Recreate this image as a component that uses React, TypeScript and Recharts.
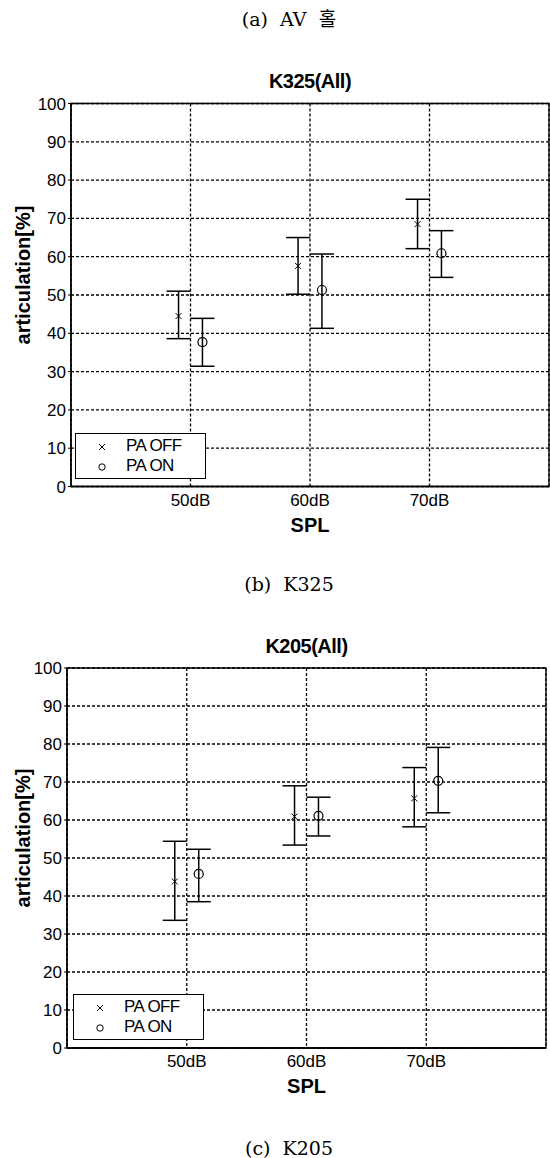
import React from "react";
import {
  ScatterChart,
  Scatter,
  XAxis,
  YAxis,
  CartesianGrid,
  ErrorBar,
  ReferenceArea,
  Legend,
} from "recharts";

// x categories (SPL levels) and axis ticks
const SPL_LEVELS = [50, 60, 70];
const Y_TICKS = [0, 10, 20, 30, 40, 50, 60, 70, 80, 90, 100];
const SERIES_NAMES = ["PA OFF", "PA ON"];

// K325(All) — articulation [%], mean and min / max per SPL level
const k325OffMean = [44.5, 57.6, 68.5];
const k325OffLow = [38.6, 50.2, 62.1];
const k325OffHigh = [51.0, 65.0, 75.0];
const k325OnMean = [37.7, 51.3, 60.9];
const k325OnLow = [31.4, 41.3, 54.6];
const k325OnHigh = [43.9, 60.7, 66.8];

// K205(All)
const k205OffMean = [43.8, 60.9, 65.7];
const k205OffLow = [33.6, 53.4, 58.2];
const k205OffHigh = [54.4, 69.0, 73.8];
const k205OnMean = [45.8, 61.1, 70.3];
const k205OnLow = [38.5, 55.8, 61.9];
const k205OnHigh = [52.3, 66.0, 79.1];

const SANS = "'Liberation Sans', Arial, sans-serif";
const SERIF = "'DejaVu Serif', 'Liberation Serif', 'Noto Sans CJK KR', serif";

// PA OFF sits just left of the tick, PA ON just right (matlab-ish dodge)
const DODGE = 1;

function toPoints(mean: number[], low: number[], high: number[], shift: number) {
  return SPL_LEVELS.map((db, i) => ({
    x: db + shift,
    y: mean[i],
    err: [mean[i] - low[i], high[i] - mean[i]],
  }));
}

function CrossShape(props: any) {
  const { cx, cy } = props;
  const s = 3;
  return (
    <g stroke="#000" strokeWidth={1}>
      <line x1={cx - s} y1={cy - s} x2={cx + s} y2={cy + s} />
      <line x1={cx - s} y1={cy + s} x2={cx + s} y2={cy - s} />
    </g>
  );
}

function CircleShape(props: any) {
  const { cx, cy } = props;
  return <circle cx={cx} cy={cy} r={4.5} fill="none" stroke="#000" strokeWidth={1.2} />;
}

function LegendBox({ payload }: any) {
  return (
    <div
      style={{
        width: 131,
        height: 46,
        border: "1.5px solid #000",
        background: "#fff",
        fontFamily: SANS,
        fontSize: 17,
        color: "#000",
        boxSizing: "border-box",
        paddingTop: 2,
      }}
    >
      {(payload ?? []).map((p: any, i: number) => (
        <div key={p.value} style={{ display: "flex", alignItems: "center", height: 20 }}>
          <svg width={50} height={20}>
            {i === 0 ? (
              <g stroke="#000" strokeWidth={1}>
                <line x1={23} y1={8} x2={29} y2={14} />
                <line x1={23} y1={14} x2={29} y2={8} />
              </g>
            ) : (
              <circle cx={26} cy={11} r={3.2} fill="none" stroke="#000" strokeWidth={1} />
            )}
          </svg>
          <span style={{ letterSpacing: -0.6 }}>{p.value}</span>
        </div>
      ))}
    </div>
  );
}

interface PanelProps {
  top: number;
  height: number;
  title: string;
  titleX: number;
  titleY: number;
  yAxisWidth: number;
  margin: { top: number; right: number; bottom: number; left: number };
  legendPos: { left: number; top: number };
  off: { x: number; y: number; err: number[] }[];
  on: { x: number; y: number; err: number[] }[];
}

function Panel({ top, height, title, titleX, titleY, yAxisWidth, margin, legendPos, off, on }: PanelProps) {
  return (
    <div style={{ position: "absolute", left: 0, top, width: 550, height }}>
      <div
        style={{
          position: "absolute",
          left: titleX,
          top: titleY,
          transform: "translate(-50%, -50%)",
          fontFamily: SANS,
          fontWeight: "bold",
          fontSize: 20,
          lineHeight: 1,
          whiteSpace: "nowrap",
          letterSpacing: -0.5,
        }}
      >
        {title}
      </div>
      <ScatterChart width={550} height={height} margin={margin}>
        <CartesianGrid stroke="#000" strokeDasharray="3 2" strokeWidth={1.3} />
        <XAxis
          type="number"
          dataKey="x"
          domain={[40, 80]}
          ticks={SPL_LEVELS}
          tickFormatter={(v) => `${v}dB`}
          tick={{ fill: "#000", fontSize: 17, fontFamily: SANS }}
          tickLine={false}
          tickSize={4}
          tickMargin={3}
          axisLine={{ stroke: "#000", strokeWidth: 1.3 }}
          height={45}
          allowDataOverflow
          label={{
            content: (p: any) => {
              const vb = p.viewBox;
              return (
                <text
                  x={vb.x + vb.width / 2}
                  y={vb.y + 38}
                  textAnchor="middle"
                  dominantBaseline="central"
                  fontFamily={SANS}
                  fontWeight="bold"
                  fontSize={20}
                  fill="#000"
                >
                  SPL
                </text>
              );
            },
          }}
        />
        <YAxis
          type="number"
          dataKey="y"
          domain={[0, 100]}
          ticks={Y_TICKS}
          interval={0}
          tick={{ fill: "#000", fontSize: 17, fontFamily: SANS }}
          tickSize={3}
          tickMargin={2}
          tickLine={{ stroke: "#000" }}
          axisLine={{ stroke: "#000", strokeWidth: 1.3 }}
          width={yAxisWidth}
          allowDataOverflow
          label={{
            content: (p: any) => {
              const vb = p.viewBox;
              const cx = 23;
              const cy = vb.y + vb.height / 2 - 20;
              return (
                <text
                  x={cx}
                  y={cy}
                  transform={`rotate(-90 ${cx} ${cy})`}
                  textAnchor="middle"
                  dominantBaseline="central"
                  fontFamily={SANS}
                  fontWeight="bold"
                  fontSize={20}
                  fill="#000"
                >
                  articulation[%]
                </text>
              );
            },
          }}
        />
        <ReferenceArea x1={40} x2={80} y1={0} y2={100} fill="none" stroke="#000" strokeWidth={1.3} ifOverflow="visible" />
        <Scatter name={SERIES_NAMES[0]} data={off} shape={CrossShape} isAnimationActive={false}>
          <ErrorBar dataKey="err" direction="y" width={12} stroke="#000" strokeWidth={1.5} isAnimationActive={false} />
        </Scatter>
        <Scatter name={SERIES_NAMES[1]} data={on} shape={CircleShape} isAnimationActive={false}>
          <ErrorBar dataKey="err" direction="y" width={12} stroke="#000" strokeWidth={1.5} isAnimationActive={false} />
        </Scatter>
        <Legend
          verticalAlign="middle"
          align="center"
          content={<LegendBox />}
          wrapperStyle={{ left: legendPos.left, top: legendPos.top, width: 132 }}
        />
      </ScatterChart>
    </div>
  );
}

function Caption({ text, y }: { text: string; y: number }) {
  return (
    <div
      style={{
        position: "absolute",
        left: 289,
        top: y,
        transform: "translate(-50%, -50%)",
        fontFamily: SERIF,
        fontSize: 19,
        lineHeight: 1,
        whiteSpace: "pre",
      }}
    >
      {text}
    </div>
  );
}

export default function App() {
  return (
    <div style={{ position: "relative", width: 550, height: 1158, background: "#fff", overflow: "hidden" }}>
      <style>{`body { margin: 0; }`}</style>
      <Caption text={"(a)  AV  홀"} y={19} />
      <Panel
        top={0}
        height={540}
        title="K325(All)"
        titleX={310}
        titleY={81}
        yAxisWidth={71}
        margin={{ top: 103.5, right: 1, bottom: 8.5, left: 0 }}
        legendPos={{ left: 75, top: 433 }}
        off={toPoints(k325OffMean, k325OffLow, k325OffHigh, -DODGE)}
        on={toPoints(k325OnMean, k325OnLow, k325OnHigh, DODGE)}
      />
      <Caption text={"(b)  K325"} y={584} />
      <Panel
        top={560}
        height={560}
        title="K205(All)"
        titleX={306.5}
        titleY={86}
        yAxisWidth={67}
        margin={{ top: 108, right: 4, bottom: 27, left: 0 }}
        legendPos={{ left: 73, top: 434 }}
        off={toPoints(k205OffMean, k205OffLow, k205OffHigh, -DODGE)}
        on={toPoints(k205OnMean, k205OnLow, k205OnHigh, DODGE)}
      />
      <Caption text={"(c)  K205"} y={1148} />
    </div>
  );
}
